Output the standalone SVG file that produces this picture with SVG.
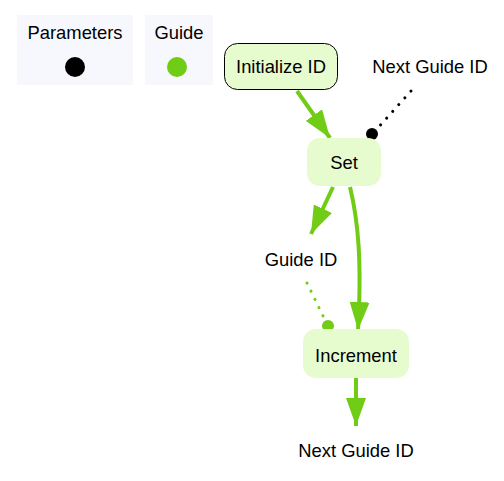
<svg xmlns="http://www.w3.org/2000/svg" width="504" height="481" viewBox="0 0 504 481">
<defs>
<style>
text{font-family:"Liberation Sans",Arial,Helvetica,sans-serif;font-size:18.4px;fill:#000;text-anchor:middle}
.legend{fill:#f7f8fd}
.node{fill:#e6fccf}
.edge{fill:none;stroke:#70cc14;stroke-width:4}
.dotg{fill:none;stroke:#70cc14;stroke-width:3;stroke-dasharray:0.1 9;stroke-linecap:round}
.dotb{fill:none;stroke:#000;stroke-width:3;stroke-dasharray:0.1 9;stroke-linecap:round}
</style>
<marker id="ah" viewBox="0 0 28 20" refX="28" refY="10" markerWidth="28" markerHeight="20" markerUnits="userSpaceOnUse" orient="auto">
<path d="M0,0L28,10L0,20Z" fill="#70cc14"/>
</marker>
</defs>
<g id="legend-parameters">
<rect class="legend" x="17" y="15" width="116" height="70"/>
<text x="75" y="39">Parameters</text>
<circle cx="75" cy="67" r="10" fill="#000"/>
</g>
<g id="legend-guide">
<rect class="legend" x="145" y="15" width="68" height="70"/>
<text x="179" y="39">Guide</text>
<circle cx="177" cy="67" r="10" fill="#70cc14"/>
</g>
<g id="connectors">
<path class="edge" d="M297,91L330,138" marker-end="url(#ah)"/>
<path class="edge" d="M333,187L311,234" marker-end="url(#ah)"/>
<path class="edge" d="M350,187C358,220 362,260 358,330" marker-end="url(#ah)"/>
<path class="edge" d="M356,378L356,426" marker-end="url(#ah)"/>
<path class="dotg" d="M307,283L326,322"/>
<circle cx="328" cy="326" r="6" fill="#70cc14"/>
<path class="dotb" d="M411,91L376,130"/>
<circle cx="372" cy="134" r="6" fill="#000"/>
</g>
<g id="node-initialize">
<rect class="node" x="224.5" y="43.5" width="113" height="46" rx="13" stroke="#000" stroke-width="1"/>
<text x="281" y="73">Initialize ID</text>
</g>
<g id="node-set">
<rect class="node" x="307" y="138" width="74" height="48" rx="13"/>
<text x="344" y="169">Set</text>
</g>
<g id="node-increment">
<rect class="node" x="303" y="329" width="106" height="49" rx="13"/>
<text x="356" y="362">Increment</text>
</g>
<g id="label-guide-id">
<text x="301" y="266">Guide ID</text>
</g>
<g id="label-next-guide-id-top">
<text x="430" y="73">Next Guide ID</text>
</g>
<g id="label-next-guide-id-bottom">
<text x="356" y="457">Next Guide ID</text>
</g>
</svg>
